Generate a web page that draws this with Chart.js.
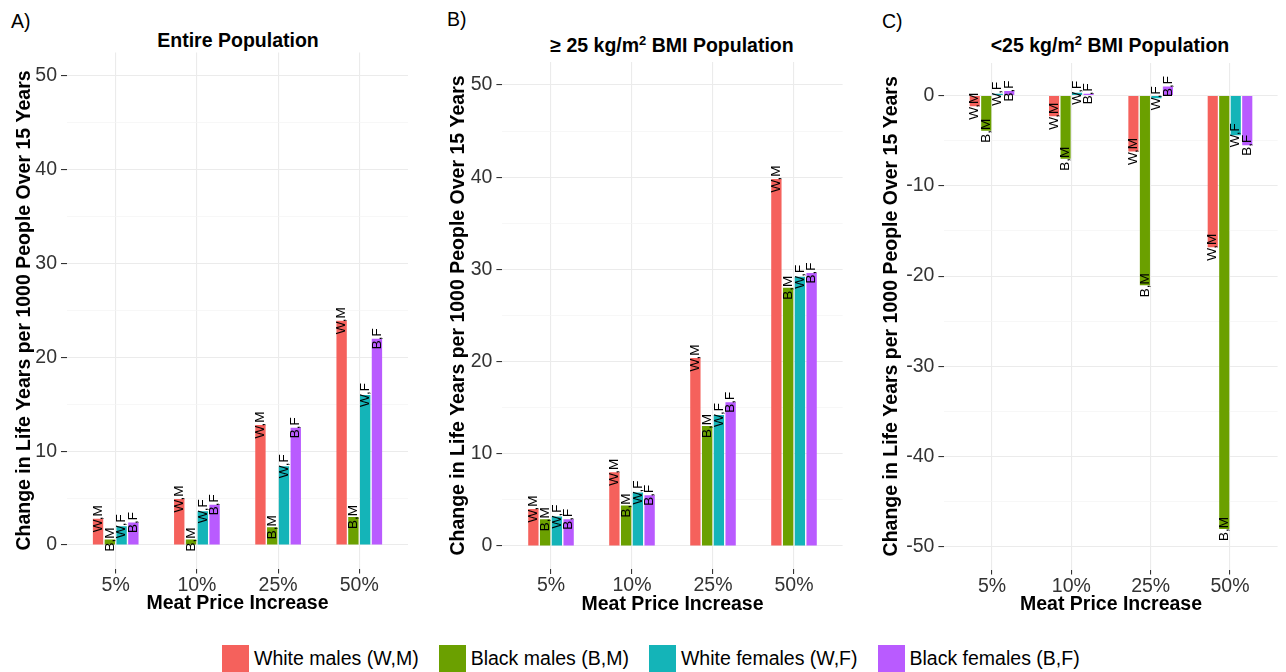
<!DOCTYPE html>
<html lang="en">
<head>
  <meta charset="UTF-8" />
  <title>Meat price increase - life years</title>
  <script src="https://cdn.jsdelivr.net/npm/chart.js"></script>
  <style>
    body { margin: 0; background: #fff; font-family: "Liberation Sans", Arial, sans-serif; }
    #page { position: relative; width: 1286px; height: 672px; overflow: hidden; }
    canvas { position: absolute; top: 0; }
    .letter { position: absolute; font-size: 19.5px; line-height: 20px; color: #000; }
    .title { position: absolute; font-size: 19.5px; font-weight: bold; line-height: 22px; white-space: nowrap; transform: translateX(-50%); }
    .title sup { font-size: 13px; line-height: 0; }
    #legend { position: absolute; left: 222px; top: 645px; display: flex; align-items: center; font-size: 19.5px; white-space: nowrap; }
    #legend .sw { width: 27px; height: 27px; margin-right: 5px; }
    #legend .item { display: flex; align-items: center; margin-right: 20px; }
  </style>
</head>
<body>
  <div id="page">
    <div class="letter" style="left:11px; top:11px;">A)</div>
    <div class="letter" style="left:447px; top:9px;">B)</div>
    <div class="letter" style="left:882px; top:11px;">C)</div>

    <div class="title" style="left:238px; top:29px;">Entire Population</div>
    <div class="title" style="left:672px; top:34px;">≥ 25 kg/m<sup>2</sup> BMI Population</div>
    <div class="title" style="left:1110px; top:34px;">&lt;25 kg/m<sup>2</sup> BMI Population</div>

    <canvas id="chartA" width="430" height="620" style="left:0px"></canvas>
    <canvas id="chartB" width="430" height="620" style="left:430px"></canvas>
    <canvas id="chartC" width="431" height="620" style="left:855px"></canvas>

    <div id="legend"></div>
  </div>

  <script>
    const priceLabels = ["5%", "10%", "25%", "50%"];
    const groupNames = ["White males (W,M)", "Black males (B,M)", "White females (W,F)", "Black females (B,F)"];
    const groupShort = ["W,M", "B,M", "W,F", "B,F"];
    const groupColors = ["#F5615C", "#6BA000", "#14B4B8", "#B95BFF"];

    // A) entire population
    const entireWM = [2.8, 4.9, 12.8, 23.9];
    const entireBM = [0.6, 0.6, 1.9, 3.0];
    const entireWF = [2.0, 3.6, 8.4, 16.0];
    const entireBF = [2.4, 4.3, 12.5, 22.0];

    // B) >= 25 kg/m2
    const highWM = [4.0, 8.0, 20.4, 39.8];
    const highBM = [2.9, 4.4, 13.0, 28.0];
    const highWF = [3.2, 5.8, 14.2, 29.2];
    const highBF = [2.9, 5.5, 15.6, 29.6];

    // C) < 25 kg/m2
    const lowWM = [-1.2, -2.3, -6.2, -16.8];
    const lowBM = [-3.9, -7.0, -21.0, -48.0];
    const lowWF = [0.2, 0.3, -0.3, -4.4];
    const lowBF = [0.5, 0.2, 1.0, -5.5];

    const yTicksPos = [0, 10, 20, 30, 40, 50];
    const yTicksNeg = [-50, -40, -30, -20, -10, 0];

    const FONT = '"Liberation Sans", Arial, sans-serif';
    Chart.defaults.font.family = FONT;

    const barLabels = {
      id: "barLabels",
      afterDatasetsDraw(chart) {
        const ctx = chart.ctx;
        ctx.save();
        ctx.font = "13.5px " + FONT;
        ctx.fillStyle = "#000";
        ctx.textAlign = "center";
        ctx.textBaseline = "middle";
        chart.data.datasets.forEach((ds, i) => {
          chart.getDatasetMeta(i).data.forEach(bar => {
            ctx.save();
            ctx.translate(bar.x, bar.y);
            ctx.rotate(-Math.PI / 2);
            ctx.fillText(groupShort[i], 0, 0);
            ctx.restore();
          });
        });
        ctx.restore();
      }
    };

    function withMinor(major) {
      const all = [];
      for (let i = 0; i < major.length; i++) {
        all.push(major[i]);
        if (i < major.length - 1) all.push((major[i] + major[i + 1]) / 2);
      }
      return all;
    }

    function makePanel(id, series, opt) {
      const isMajor = v => opt.ticks.includes(v);
      new Chart(document.getElementById(id), {
        type: "bar",
        data: {
          datasets: series.map((vals, i) => ({
            label: groupNames[i],
            data: vals.map((v, k) => ({ x: k + 1, y: v })),
            backgroundColor: groupColors[i],
            borderWidth: 0,
            categoryPercentage: 0.58,
            barPercentage: 0.88
          }))
        },
        options: {
          responsive: false,
          animation: false,
          devicePixelRatio: 1,
          layout: {
            autoPadding: false,
            padding: { left: 0, right: opt.padRight, top: opt.top, bottom: opt.padBottom }
          },
          plugins: { legend: { display: false }, tooltip: { enabled: false } },
          scales: {
            x: {
              type: "linear",
              min: 0.4,
              max: 4.6,
              offset: false,
              afterBuildTicks: s => { s.ticks = [1, 2, 3, 4].map(v => ({ value: v })); },
              afterFit: s => { s.height = 47; },
              border: { display: false },
              grid: { offset: false, color: "#EBEBEB", lineWidth: 1.1, tickColor: "#333", tickLength: 5 },
              ticks: {
                autoSkip: false, maxRotation: 0, padding: 0,
                color: "#333", font: { size: 19.5 },
                callback: v => priceLabels[Math.round(v) - 1]
              },
              title: {
                display: true, text: "Meat Price Increase", color: "#000",
                font: { size: 19.5, weight: "bold" }, padding: { top: 0, bottom: 0 }
              }
            },
            y: {
              min: opt.min,
              max: opt.max,
              afterBuildTicks: s => { s.ticks = withMinor(opt.ticks).map(v => ({ value: v })); },
              afterFit: s => { s.width = opt.left; },
              border: { display: false },
              grid: {
                color: c => isMajor(c.tick.value) ? "#EBEBEB" : "#F4F4F4",
                lineWidth: c => isMajor(c.tick.value) ? 1.1 : 0.7,
                tickColor: c => isMajor(c.tick.value) ? "#333" : "rgba(0,0,0,0)",
                tickLength: 6
              },
              ticks: {
                autoSkip: false, padding: 4, color: "#333", font: { size: 19.5 },
                callback: v => isMajor(v) ? String(v) : ""
              },
              title: {
                display: true, text: "Change in Life Years per 1000 People Over 15 Years",
                color: "#000", font: { size: 19.5, weight: "bold" },
                padding: { top: opt.titlePad, bottom: 0 }
              }
            }
          }
        },
        plugins: [barLabels]
      });
    }

    makePanel("chartA", [entireWM, entireBM, entireWF, entireBF],
      { min: -2.5, max: 52.5, ticks: yTicksPos, left: 67, padRight: 22, top: 52.5, padBottom: 4.5, titlePad: 13.3 });
    makePanel("chartB", [highWM, highBM, highWF, highBF],
      { min: -2.5, max: 52.5, ticks: yTicksPos, left: 72.4, padRight: 17.4, top: 62, padBottom: 4, titlePad: 17.3 });
    makePanel("chartC", [lowWM, lowBM, lowWF, lowBF],
      { min: -52.5, max: 3.6, ticks: yTicksNeg, left: 89.4, padRight: 8.4, top: 63, padBottom: 3.4, titlePad: 25.3 });

    const legend = document.getElementById("legend");
    groupNames.forEach((name, i) => {
      const item = document.createElement("div");
      item.className = "item";
      item.innerHTML = `<div class="sw" style="background:${groupColors[i]}"></div><span>${name}</span>`;
      legend.appendChild(item);
    });
  </script>
</body>
</html>
